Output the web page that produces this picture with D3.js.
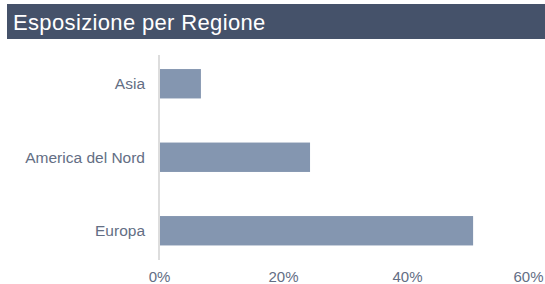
<!DOCTYPE html>
<html>
<head>
<meta charset="utf-8">
<script src="https://cdn.jsdelivr.net/npm/d3@7"></script>
<style>
  body { margin: 0; background: #fff; }
  svg { display: block; font-family: "Liberation Sans", Arial, sans-serif; }
</style>
</head>
<body>
<svg id="chart"></svg>
<script>
let regions = ["Asia", "America del Nord", "Europa"]
let exposure = [6.6, 24.2, 50.5]
let tickValues = [0, 20, 40, 60]

let width = 545
let height = 284

let svg = d3.select("#chart")
    .attr("width", width)
    .attr("height", height)

// title banner
svg.append("rect")
    .attr("x", 7)
    .attr("y", 4)
    .attr("width", width - 7)
    .attr("height", 35)
    .attr("fill", "#45526a")

svg.append("text")
    .attr("x", 13)
    .attr("y", 30)
    .attr("fill", "#ffffff")
    .style("font-size", "22px")
    .style("letter-spacing", "0.35px")
    .text("Esposizione per Regione")

let xScale = d3.scaleLinear()
    .domain([0, 60])
    .range([160, 532])

let yScale = d3.scaleBand()
    .domain(regions)
    .range([47, 267.5])
    .paddingInner(0.6)
    .paddingOuter(0.3)

// bars
svg.selectAll(".bar")
    .data(regions)
    .enter()
    .append("rect")
    .attr("class", "bar")
    .attr("x", xScale(0))
    .attr("y", (d) => yScale(d))
    .attr("width", (d, i) => xScale(exposure[i]) - xScale(0))
    .attr("height", yScale.bandwidth())
    .attr("fill", "#8496b0")

// baseline
svg.append("line")
    .attr("x1", xScale(0) - 1)
    .attr("x2", xScale(0) - 1)
    .attr("y1", 55)
    .attr("y2", 260)
    .attr("stroke", "#dddddd")
    .attr("stroke-width", 2)

// category labels
let yAxis = svg.append("g")
    .attr("transform", "translate(" + (xScale(0) - 15) + ",0)")
    .call(d3.axisLeft(yScale).tickSize(0).tickPadding(0))
yAxis.select(".domain").remove()
yAxis.selectAll("text")
    .attr("fill", "#636e84")
    .style("font-size", "15.5px")
    .attr("dy", "0.35em")

// x tick labels (last one nudged so it stays inside the page)
let xAxis = svg.append("g")
    .attr("transform", "translate(0,269)")
    .call(d3.axisBottom(xScale)
        .tickValues(tickValues)
        .tickFormat((d) => d + "%")
        .tickSize(0)
        .tickPadding(0))
xAxis.select(".domain").remove()
xAxis.selectAll("text")
    .attr("fill", "#636e84")
    .style("font-size", "15px")
    .attr("dy", "0.85em")
    .attr("x", (d, i) => i === tickValues.length - 1 ? -4 : -1)
</script>
</body>
</html>
